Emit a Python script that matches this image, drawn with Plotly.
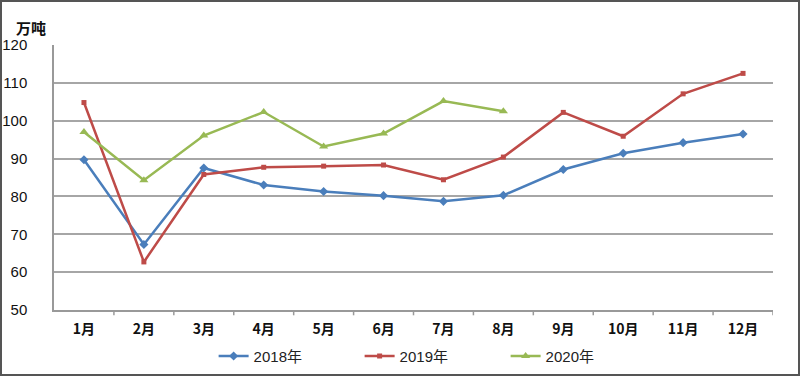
import plotly.graph_objects as go

months = ["1月", "2月", "3月", "4月", "5月", "6月", "7月", "8月", "9月", "10月", "11月", "12月"]
y2018 = [89.7, 67.3, 87.5, 83.0, 81.3, 80.2, 78.7, 80.3, 87.1, 91.4, 94.2, 96.5]
y2019 = [104.8, 62.7, 85.8, 87.7, 88.0, 88.3, 84.4, 90.4, 102.2, 95.9, 107.1, 112.5]
y2020 = [97.0, 84.3, 96.1, 102.3, 93.2, 96.6, 105.2, 102.5]
y_ticks = [50, 60, 70, 80, 90, 100, 110, 120]

fig = go.Figure()
fig.add_trace(go.Scatter(x=months, y=y2018, name="2018年", mode="lines+markers",
                         line=dict(color="#4a7ebb", width=2.5),
                         marker=dict(symbol="diamond", size=7, color="#4a7ebb")))
fig.add_trace(go.Scatter(x=months, y=y2019, name="2019年", mode="lines+markers",
                         line=dict(color="#be4b48", width=2.5),
                         marker=dict(symbol="square", size=5, color="#be4b48")))
fig.add_trace(go.Scatter(x=months[:len(y2020)], y=y2020, name="2020年", mode="lines+markers",
                         line=dict(color="#98b954", width=2.5),
                         marker=dict(symbol="triangle-up", size=8, color="#98b954")))

fig.update_layout(
    width=800, height=376,
    margin=dict(l=54, r=27, t=45, b=66, autoexpand=False),
    paper_bgcolor="white", plot_bgcolor="white",
    font=dict(family="Noto Sans CJK SC, Liberation Sans, sans-serif", size=13, color="#111"),
    showlegend=True,
    legend=dict(orientation="h", x=0.222, xanchor="left", y=-0.112, yanchor="top",
                bgcolor="rgba(0,0,0,0)",
                font=dict(size=15, family="Liberation Sans, Noto Sans CJK SC, sans-serif", color="#222"),
                entrywidth=101, entrywidthmode="pixels"),
    xaxis=dict(type="category", categoryorder="array", categoryarray=months,
               range=[-0.5, 11.5], showgrid=False, showline=True, linecolor="#999", linewidth=1.5,
               ticks="", tickfont=dict(size=14, family="Noto Sans CJK SC, serif", color="#111", weight=700),
               ticklabelstandoff=5, fixedrange=True),
    yaxis=dict(range=[50, 120], tickvals=y_ticks, showgrid=True, gridcolor="#a6a6a6", gridwidth=1.5,
               showline=True, linecolor="#999", linewidth=1.5, ticks="", zeroline=False,
               tickfont=dict(size=15, family="Liberation Sans, sans-serif", color="#111"),
               ticklabelstandoff=22),
    annotations=[dict(text="万吨", xref="paper", yref="paper", x=-0.032, y=1.02,
                      xanchor="center", yanchor="bottom", showarrow=False,
                      font=dict(size=15, color="#111", weight=700))],
)

# tick marks between categories on the x axis
shapes = []
for i in range(1, 13):
    shapes.append(dict(type="line", xref="x", yref="paper", x0=i - 0.5, x1=i - 0.5,
                       y0=0, y1=-0.02, line=dict(color="#999", width=1.5)))
# outer border
shapes.append(dict(type="rect", xref="paper", yref="paper",
                   x0=-53 / 719, x1=1 + 26 / 719, y0=-65 / 265, y1=1 + 44 / 265,
                   line=dict(color="#555", width=2)))
fig.update_layout(shapes=shapes)

fig.write_html("out.html", config={"displayModeBar": False},
               post_script="document.body.style.margin='0';")
